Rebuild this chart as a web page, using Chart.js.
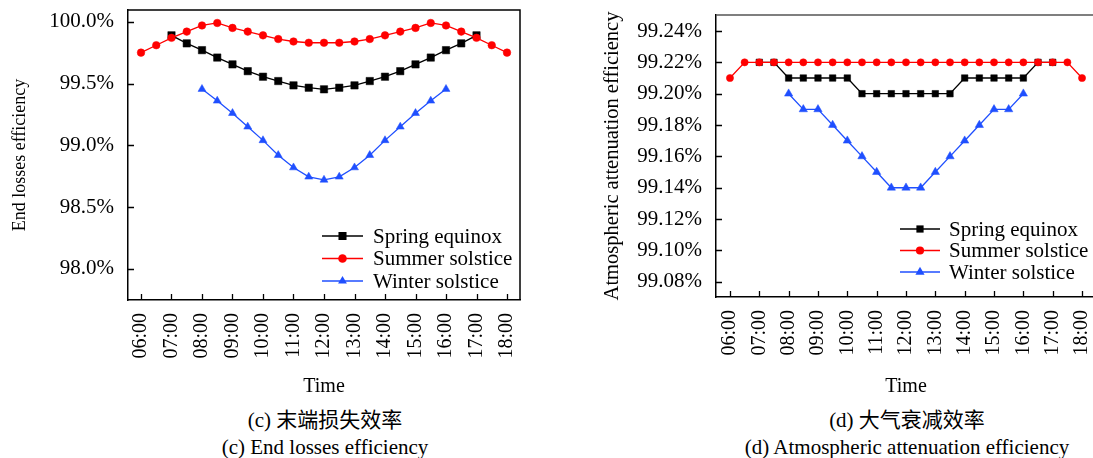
<!DOCTYPE html>
<html>
<head>
<meta charset="utf-8">
<script src="https://cdn.jsdelivr.net/npm/chart.js@4.4.0/dist/chart.umd.min.js"></script>
<style>
    html, body { margin: 0; padding: 0; background: #fff; width: 1093px; height: 458px; overflow: hidden; }
    canvas { position: absolute; top: 0; }
    .cap {
        position: absolute; transform: translateX(-50%); white-space: nowrap;
        font-family: "Liberation Serif", "Times New Roman", "Noto Sans CJK SC", serif;
        font-size: 21px; line-height: 24px; color: #000;
    }
</style>
</head>
<body>
<canvas id="endChart" width="545" height="400" style="left:0"></canvas>
<canvas id="atmChart" width="525" height="400" style="left:590px"></canvas>
<div class="cap" style="left:325px; top:408px">(c) 末端损失效率</div>
<div class="cap" style="left:325px; top:435px">(c) End losses efficiency</div>
<div class="cap" style="left:907px; top:408px">(d) 大气衰减效率</div>
<div class="cap" style="left:907px; top:435px">(d) Atmospheric attenuation efficiency</div>
<script>
// --- data ---
const timeLabels = ['06:00', '06:30', '07:00', '07:30', '08:00', '08:30', '09:00', '09:30', '10:00',
    '10:30', '11:00', '11:30', '12:00', '12:30', '13:00', '13:30', '14:00', '14:30', '15:00',
    '15:30', '16:00', '16:30', '17:00', '17:30', '18:00'];
const seriesNames = ['Spring equinox', 'Summer solstice', 'Winter solstice'];

// (c) end losses efficiency, %
const endSpring = [null, null, 99.89, 99.825, 99.77, 99.71, 99.655, 99.60, 99.555, 99.52, 99.485, 99.466,
    99.453, 99.466, 99.485, 99.52, 99.555, 99.60, 99.655, 99.71, 99.77, 99.825, 99.89, null, null];
const endSummer = [99.75, 99.81, 99.87, 99.92, 99.97, 99.99, 99.95, 99.92, 99.89, 99.86, 99.84, 99.83,
    99.83, 99.83, 99.84, 99.86, 99.89, 99.92, 99.95, 99.99, 99.97, 99.92, 99.87, 99.81, 99.75];
const endWinter = [null, null, null, null, 99.455, 99.36, 99.26, 99.15, 99.04, 98.92, 98.82, 98.745,
    98.72, 98.745, 98.82, 98.92, 99.04, 99.15, 99.26, 99.36, 99.455, null, null, null, null];

// (d) atmospheric attenuation efficiency, %
const atmSpring = [null, null, 99.22, 99.22, 99.21, 99.21, 99.21, 99.21, 99.21, 99.20, 99.20, 99.20,
    99.20, 99.20, 99.20, 99.20, 99.21, 99.21, 99.21, 99.21, 99.21, 99.22, 99.22, null, null];
const atmSummer = [99.21, 99.22, 99.22, 99.22, 99.22, 99.22, 99.22, 99.22, 99.22, 99.22, 99.22, 99.22,
    99.22, 99.22, 99.22, 99.22, 99.22, 99.22, 99.22, 99.22, 99.22, 99.22, 99.22, 99.22, 99.21];
const atmWinter = [null, null, null, null, 99.20, 99.19, 99.19, 99.18, 99.17, 99.16, 99.15, 99.14,
    99.14, 99.14, 99.15, 99.16, 99.17, 99.18, 99.19, 99.19, 99.20, null, null, null, null];

const FONT = '"Liberation Serif", "Times New Roman", serif';

const toHours = (t) => {
    const [h, m] = t.split(':').map(Number);
    return h + m / 60;
};
const toPoints = (values) => timeLabels.map((t, i) => ({ x: toHours(t), y: values[i] }));

// --- inward ticks + frame lines ---
const framePlugin = {
    id: 'frame',
    afterDraw(chart, args, opts) {
        const { ctx, chartArea: a, scales } = chart;
        ctx.save();
        ctx.strokeStyle = '#000';
        ctx.lineWidth = 1.3;
        ctx.beginPath();
        scales.x.ticks.forEach(t => {
            const px = Math.round(scales.x.getPixelForValue(t.value)) + 0.5;
            ctx.moveTo(px, a.bottom);
            ctx.lineTo(px, a.bottom - 6);
        });
        scales.y.ticks.forEach(t => {
            const py = Math.round(scales.y.getPixelForValue(t.value)) + 0.5;
            ctx.moveTo(a.left, py);
            ctx.lineTo(a.left + 6, py);
        });
        ctx.stroke();
        ctx.strokeStyle = opts.color || '#000';
        ctx.lineWidth = 1.5;
        ctx.beginPath();
        ctx.moveTo(a.left, a.top);
        ctx.lineTo(a.right, a.top);
        ctx.lineTo(a.right, a.bottom);
        ctx.stroke();
        ctx.restore();
    }
};

function drawMarker(ctx, style, x, y, r) {
    ctx.beginPath();
    if (style === 'rect') {
        const s = r * Math.SQRT1_2;
        ctx.rect(x - s, y - s, 2 * s, 2 * s);
    } else if (style === 'triangle') {
        for (let k = 0; k < 3; k++) {
            const ang = k * 2 * Math.PI / 3;
            const px = x + Math.sin(ang) * r, py = y - Math.cos(ang) * r;
            if (k === 0) ctx.moveTo(px, py); else ctx.lineTo(px, py);
        }
        ctx.closePath();
    } else {
        ctx.arc(x, y, r, 0, Math.PI * 2);
    }
    ctx.fill();
}

// --- legend drawn inside the plot area ---
const legendPlugin = {
    id: 'innerLegend',
    afterDraw(chart, args, opts) {
        const ctx = chart.ctx;
        ctx.save();
        ctx.font = `${opts.fontSize}px ${FONT}`;
        ctx.textBaseline = 'middle';
        chart.data.datasets.forEach((ds, i) => {
            const y = opts.y + i * opts.gap;
            ctx.strokeStyle = ds.borderColor;
            ctx.lineWidth = ds.borderWidth;
            ctx.beginPath();
            ctx.moveTo(opts.x0, y);
            ctx.lineTo(opts.x1, y);
            ctx.stroke();
            ctx.fillStyle = ds.pointBackgroundColor;
            drawMarker(ctx, ds.pointStyle, (opts.x0 + opts.x1) / 2, y, ds.pointRadius + 0.5);
            ctx.fillStyle = '#000';
            ctx.fillText(ds.label, opts.textX, y + 1);
        });
        ctx.restore();
    }
};

function makeDatasets(spring, summer, winter, sizes) {
    return [
        {
            label: seriesNames[0], data: toPoints(spring), order: 3,
            borderColor: '#000000', pointBackgroundColor: '#000000', pointBorderColor: '#000000',
            pointStyle: 'rect', pointRadius: sizes[0]
        },
        {
            label: seriesNames[1], data: toPoints(summer), order: 2,
            borderColor: '#ff0000', pointBackgroundColor: '#ff0000', pointBorderColor: '#ff0000',
            pointStyle: 'circle', pointRadius: sizes[1]
        },
        {
            label: seriesNames[2], data: toPoints(winter), order: 1,
            borderColor: '#1f4fff', pointBackgroundColor: '#1f4fff', pointBorderColor: '#1f4fff',
            pointStyle: 'triangle', pointRadius: sizes[2]
        }
    ].map(ds => Object.assign(ds, { borderWidth: 1.3, pointBorderWidth: 0.5, tension: 0, fill: false }));
}

function makeChart(id, cfg) {
    const ctx = document.getElementById(id).getContext('2d');
    return new Chart(ctx, {
        type: 'line',
        data: { datasets: makeDatasets(cfg.spring, cfg.summer, cfg.winter, cfg.sizes) },
        options: {
            responsive: false,
            animation: false,
            layout: { padding: cfg.padding },
            scales: {
                x: {
                    type: 'linear', min: cfg.xMin, max: cfg.xMax,
                    afterFit: (scale) => {
                        scale.height = cfg.xHeight;
                        scale.paddingLeft = 0;
                        scale.paddingRight = 0;
                    },
                    grid: { display: false, drawTicks: false },
                    border: { display: true, color: '#000', width: 1.5 },
                    ticks: {
                        stepSize: 1, includeBounds: false, autoSkip: false,
                        maxRotation: 90, minRotation: 90, padding: 13, color: '#000',
                        font: { family: FONT, size: 20 },
                        callback: (v) => String(v).padStart(2, '0') + ':00'
                    },
                    title: {
                        display: true, text: 'Time', color: '#000',
                        font: { family: FONT, size: 20 }, padding: { top: 0, bottom: 1 }
                    }
                },
                y: {
                    min: cfg.yMin, max: cfg.yMax,
                    afterFit: (scale) => {
                        scale.width = cfg.yWidth;
                        scale.paddingTop = 0;
                        scale.paddingBottom = 0;
                    },
                    grid: { display: false, drawTicks: false },
                    border: { display: true, color: '#000', width: 1.5 },
                    ticks: {
                        stepSize: cfg.yStep, includeBounds: false, padding: 14, color: '#000',
                        font: { family: FONT, size: 21 },
                        callback: (v) => v.toFixed(cfg.yDigits) + '%'
                    },
                    title: {
                        display: true, text: cfg.yTitle, color: '#000',
                        font: { family: FONT, size: cfg.yTitleSize }, padding: { top: cfg.yTitlePad, bottom: 0 }
                    }
                }
            },
            plugins: {
                legend: { display: false },
                tooltip: { enabled: false },
                frame: { color: cfg.frameColor },
                innerLegend: cfg.legend
            }
        },
        plugins: [framePlugin, legendPlugin]
    });
}

makeChart('endChart', {
    spring: endSpring, summer: endSummer, winter: endWinter, sizes: [5.2, 3.8, 4.6],
    padding: { top: 10, right: 25, bottom: 0, left: 0 },
    xMin: 5.574, xMax: 18.426, xHeight: 100,
    yMin: 97.748, yMax: 100.095, yStep: 0.5, yDigits: 1, yWidth: 128,
    yTitle: 'End losses efficiency', yTitleSize: 18, yTitlePad: 9,
    frameColor: '#000',
    legend: { x0: 322, x1: 363, textX: 373, y: 236, gap: 22.5, fontSize: 21 }
});

makeChart('atmChart', {
    spring: atmSpring, summer: atmSummer, winter: atmWinter, sizes: [4.6, 3.6, 4.8],
    padding: { top: 15, right: 19, bottom: 0, left: 0 },
    xMin: 5.524, xMax: 18.476, xHeight: 103,
    yMin: 99.0703, yMax: 99.2502, yStep: 0.02, yDigits: 2, yWidth: 126,
    yTitle: 'Atmospheric attenuation efficiency', yTitleSize: 20.5, yTitlePad: 10,
    frameColor: '#555',
    legend: { x0: 310, x1: 350, textX: 359, y: 229, gap: 21.5, fontSize: 21 }
});
</script>
</body>
</html>
